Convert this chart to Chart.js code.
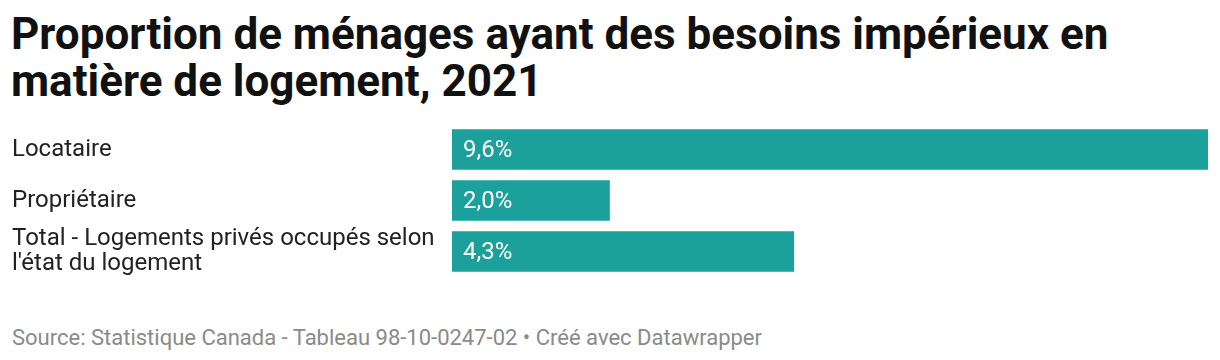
<!DOCTYPE html>
<html lang="fr">
<head>
<meta charset="utf-8">
<script src="https://cdn.jsdelivr.net/npm/chart.js@4/dist/chart.umd.min.js"></script>
<style>
body { margin: 0; background: #fff; font-family: Roboto, sans-serif; width: 1220px; height: 360px; position: relative; overflow: hidden; }
.title { position: absolute; left: 11px; top: 11px; margin: 0; font-size: 44px; font-weight: 700; line-height: 47px; color: #111; white-space: nowrap; }
.chart_box { position: absolute; left: 12px; top: 124px; width: 1196px; height: 153px; }
.source { position: absolute; left: 12px; top: 327px; margin: 0; font-size: 22px; line-height: 22px; color: #8a8a8a; white-space: nowrap; }
</style>
</head>
<body>
<h1 class="title">Proportion de ménages ayant des besoins impérieux en<br>matière de logement, 2021</h1>
<div class="chart_box"><canvas class="bar_chart"></canvas></div>
<p class="source">Source: Statistique Canada - Tableau 98-10-0247-02 • Créé avec Datawrapper</p>

<script>
// categories (multi-line label as array)
const categories = [
    'Locataire',
    'Propriétaire',
    ['Total - Logements privés occupés selon', "l'état du logement"]
]
// share of households in core housing need (%)
const shares = [9.6, 2.0, 4.34]
const barColor = '#1ba09b'

const barChart = document.querySelector('.bar_chart')

// writes the value inside the start of each bar
const valueLabels = {
    id: 'valueLabels',
    afterDatasetsDraw(chart) {
        const ctx = chart.ctx
        const meta = chart.getDatasetMeta(0)
        ctx.save()
        ctx.fillStyle = '#fff'
        ctx.font = '24px Roboto'
        ctx.textAlign = 'left'
        ctx.textBaseline = 'middle'
        meta.data.forEach((bar, i) => {
            const txt = shares[i].toFixed(1).replace('.', ',') + '%'
            ctx.fillText(txt, bar.base + 11, bar.y + 1)
        })
        ctx.restore()
    }
}

new Chart(barChart.getContext('2d'), {
    type: 'bar',
    data: {
        labels: categories,
        datasets: [{
            data: shares,
            backgroundColor: barColor,
            borderWidth: 0,
            barThickness: 40
        }]
    },
    options: {
        indexAxis: 'y',
        responsive: true,
        maintainAspectRatio: false,
        animation: false,
        layout: { padding: 0 },
        scales: {
            x: { min: 0, max: 9.6, display: false },
            y: {
                grid: { display: false },
                border: { display: false },
                afterFit: scale => {
                    // fixed label column, no extra room for tall labels
                    scale.width = 440
                    scale.paddingTop = 0
                    scale.paddingBottom = 0
                },
                ticks: {
                    autoSkip: false,
                    crossAlign: 'far',
                    padding: 0,
                    color: '#222',
                    font: { family: 'Roboto', size: 24, lineHeight: 1.07 }
                }
            }
        },
        plugins: {
            legend: { display: false },
            tooltip: { enabled: false }
        }
    },
    plugins: [valueLabels]
})
</script>
</body>
</html>
